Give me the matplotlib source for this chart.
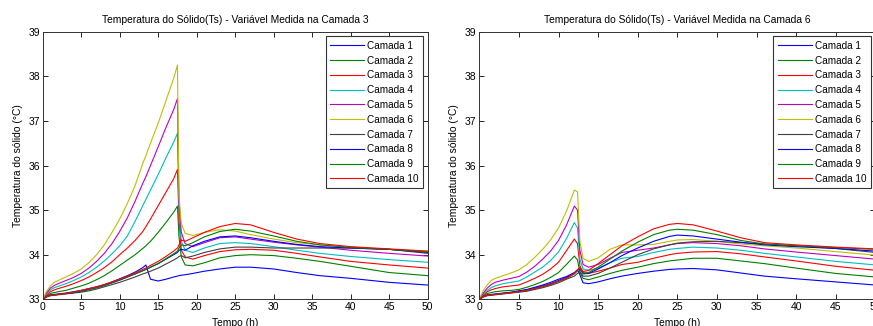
import matplotlib
matplotlib.use('Agg')
import matplotlib.pyplot as plt

plt.rcParams['font.family'] = ['Liberation Sans', 'DejaVu Sans']

# ---------------- dados ----------------
# Painel esquerdo: variável medida na camada 3
tempo_c3 = [0, 0.5, 1, 1.5, 2, 3, 4, 5, 6, 7, 8, 9, 10, 11, 12, 13, 13.4, 14, 15, 16,
            17, 17.5, 17.7, 18, 18.5, 19.5, 21, 23, 25, 27, 30, 33, 36, 40, 45, 50]

c3_cam1 = [33.0, 33.07, 33.1, 33.11, 33.12, 33.14, 33.17, 33.2, 33.24, 33.28, 33.33, 33.39,
           33.46, 33.53, 33.61, 33.71, 33.77, 33.45, 33.41, 33.45, 33.5, 33.52, 33.53, 33.54,
           33.55, 33.58, 33.63, 33.68, 33.72, 33.72, 33.68, 33.6, 33.53, 33.47, 33.38, 33.32]
c3_cam2 = [33.0, 33.08, 33.13, 33.15, 33.17, 33.2, 33.25, 33.3, 33.36, 33.44, 33.53, 33.64,
           33.76, 33.88, 34.0, 34.14, 34.2, 34.3, 34.5, 34.72, 34.95, 35.09, 34.4, 33.95,
           33.77, 33.75, 33.82, 33.93, 33.98, 34.0, 33.98, 33.92, 33.85, 33.74, 33.6, 33.53]
c3_cam3 = [33.0, 33.1, 33.17, 33.21, 33.24, 33.29, 33.35, 33.42, 33.5, 33.6, 33.71, 33.84,
           34.0, 34.15, 34.32, 34.52, 34.63, 34.8, 35.1, 35.4, 35.7, 35.91, 34.8, 34.1,
           33.95, 33.9, 33.98, 34.07, 34.11, 34.12, 34.1, 34.03, 33.95, 33.85, 33.77, 33.7]
c3_cam4 = [33.0, 33.12, 33.21, 33.26, 33.29, 33.35, 33.42, 33.5, 33.6, 33.72, 33.86, 34.02,
           34.2, 34.42, 34.75, 35.1, 35.24, 35.45, 35.8, 36.17, 36.52, 36.72, 35.0, 34.3,
           34.1, 34.05, 34.15, 34.25, 34.27, 34.25, 34.18, 34.1, 34.03, 33.96, 33.89, 33.83]
c3_cam5 = [33.0, 33.14, 33.25, 33.31, 33.35, 33.42, 33.49, 33.58, 33.7, 33.85, 34.03, 34.25,
           34.52, 34.83, 35.2, 35.6, 35.75, 36.0, 36.42, 36.85, 37.25, 37.5, 35.2, 34.5,
           34.25, 34.18, 34.27, 34.38, 34.4, 34.35, 34.28, 34.22, 34.17, 34.1, 34.03, 33.97]
c3_cam6 = [33.0, 33.18, 33.3, 33.38, 33.42, 33.5, 33.58, 33.68, 33.82, 34.0, 34.22, 34.5,
           34.8, 35.15, 35.55, 36.05, 36.22, 36.5, 36.95, 37.45, 37.95, 38.25, 35.3, 34.7,
           34.48, 34.43, 34.5, 34.56, 34.53, 34.45, 34.35, 34.27, 34.22, 34.17, 34.12, 34.08]
c3_cam7 = [33.0, 33.05, 33.08, 33.09, 33.1, 33.12, 33.14, 33.16, 33.19, 33.23, 33.28, 33.33,
           33.38, 33.44, 33.5, 33.57, 33.59, 33.63, 33.7, 33.79, 33.88, 33.93, 33.96, 33.98,
           33.93, 33.97, 34.05, 34.13, 34.17, 34.17, 34.15, 34.15, 34.15, 34.15, 34.12, 34.03]
c3_cam8 = [33.0, 33.06, 33.09, 33.1, 33.11, 33.13, 33.15, 33.18, 33.22, 33.26, 33.31, 33.37,
           33.43, 33.5, 33.57, 33.64, 33.67, 33.72, 33.8, 33.9, 34.0, 34.05, 34.1, 34.12,
           34.1, 34.2, 34.3, 34.4, 34.42, 34.38, 34.3, 34.23, 34.18, 34.15, 34.12, 34.05]
c3_cam9 = [33.0, 33.06, 33.09, 33.1, 33.11, 33.13, 33.15, 33.18, 33.22, 33.26, 33.31, 33.37,
           33.43, 33.5, 33.57, 33.64, 33.67, 33.72, 33.8, 33.91, 34.02, 34.08, 34.15, 34.22,
           34.2, 34.27, 34.4, 34.52, 34.57, 34.53, 34.42, 34.3, 34.22, 34.16, 34.12, 34.06]
c3_cam10 = [33.0, 33.06, 33.09, 33.1, 33.11, 33.13, 33.16, 33.2, 33.24, 33.28, 33.33, 33.39,
            33.45, 33.52, 33.59, 33.67, 33.7, 33.76, 33.85, 33.96, 34.08, 34.15, 34.22, 34.33,
            34.3, 34.38, 34.5, 34.63, 34.7, 34.67, 34.5, 34.35, 34.25, 34.18, 34.13, 34.08]

# Painel direito: variável medida na camada 6
tempo_c6 = [0, 0.5, 1, 1.5, 2, 3, 4, 5, 6, 7, 8, 9, 10, 11, 12, 12.4, 12.7, 13.1, 13.8,
            15, 16.5, 18, 20, 22, 24, 25, 27, 30, 33, 36, 40, 45, 50]

c6_cam1 = [33.0, 33.07, 33.1, 33.11, 33.12, 33.14, 33.16, 33.19, 33.22, 33.27, 33.32, 33.38,
           33.45, 33.51, 33.6, 33.66, 33.55, 33.37, 33.35, 33.39, 33.46, 33.52, 33.58, 33.63,
           33.67, 33.68, 33.69, 33.66, 33.59, 33.52, 33.46, 33.39, 33.32]
c6_cam2 = [33.0, 33.08, 33.13, 33.15, 33.17, 33.19, 33.2, 33.22, 33.27, 33.33, 33.4, 33.49,
           33.6, 33.78, 33.97, 33.88, 33.6, 33.47, 33.44, 33.5, 33.58, 33.65, 33.72, 33.8,
           33.86, 33.88, 33.92, 33.92, 33.86, 33.8, 33.7, 33.58, 33.5]
c6_cam3 = [33.0, 33.1, 33.17, 33.21, 33.24, 33.28, 33.3, 33.32, 33.39, 33.47, 33.56, 33.68,
           33.83, 34.09, 34.35, 34.25, 33.75, 33.6, 33.58, 33.63, 33.7, 33.78, 33.83, 33.92,
           34.0, 34.03, 34.06, 34.07, 34.02, 33.95, 33.86, 33.74, 33.65]
c6_cam4 = [33.0, 33.12, 33.2, 33.26, 33.3, 33.35, 33.38, 33.41, 33.5, 33.61, 33.72, 33.87,
           34.06, 34.36, 34.72, 34.6, 33.9, 33.68, 33.65, 33.7, 33.82, 33.92, 33.96, 34.05,
           34.12, 34.14, 34.17, 34.15, 34.1, 34.03, 33.95, 33.85, 33.77]
c6_cam5 = [33.0, 33.14, 33.25, 33.33, 33.38, 33.43, 33.47, 33.51, 33.61, 33.74, 33.9, 34.08,
           34.32, 34.66, 35.09, 35.0, 34.1, 33.78, 33.72, 33.78, 33.92, 34.05, 34.1, 34.15,
           34.22, 34.25, 34.27, 34.25, 34.2, 34.13, 34.06, 33.98, 33.9]
c6_cam6 = [33.0, 33.2, 33.32, 33.42, 33.47, 33.53, 33.59, 33.66, 33.78, 33.94, 34.12, 34.33,
           34.6, 34.97, 35.45, 35.41, 34.3, 33.92, 33.85, 33.93, 34.12, 34.22, 34.22, 34.23,
           34.3, 34.33, 34.34, 34.3, 34.24, 34.2, 34.15, 34.07, 33.99]
c6_cam7 = [33.0, 33.05, 33.08, 33.09, 33.1, 33.12, 33.14, 33.16, 33.18, 33.22, 33.26, 33.31,
           33.37, 33.45, 33.52, 33.58, 33.62, 33.52, 33.52, 33.58, 33.7, 33.83, 34.0, 34.13,
           34.22, 34.26, 34.29, 34.3, 34.27, 34.24, 34.2, 34.14, 34.05]
c6_cam8 = [33.0, 33.06, 33.09, 33.1, 33.11, 33.13, 33.15, 33.18, 33.21, 33.25, 33.3, 33.35,
           33.42, 33.49, 33.58, 33.66, 33.68, 33.57, 33.58, 33.68, 33.82, 33.98, 34.15, 34.3,
           34.41, 34.44, 34.42, 34.35, 34.28, 34.22, 34.18, 34.14, 34.08]
c6_cam9 = [33.0, 33.06, 33.09, 33.1, 33.11, 33.13, 33.15, 33.17, 33.2, 33.24, 33.28, 33.33,
           33.4, 33.47, 33.57, 33.64, 33.7, 33.58, 33.6, 33.72, 33.9, 34.08, 34.28, 34.45,
           34.55, 34.57, 34.55, 34.45, 34.32, 34.24, 34.2, 34.16, 34.12]
c6_cam10 = [33.0, 33.06, 33.09, 33.1, 33.11, 33.13, 33.15, 33.17, 33.2, 33.24, 33.29, 33.34,
            33.41, 33.47, 33.58, 33.66, 33.72, 33.62, 33.65, 33.8, 34.0, 34.2, 34.4, 34.58,
            34.68, 34.7, 34.67, 34.53, 34.38, 34.27, 34.22, 34.17, 34.13]

rotulos = ['Camada %d' % i for i in range(1, 11)]
titulos = ['Temperatura do Sólido(Ts) - Variável Medida na Camada 3',
           'Temperatura do Sólido(Ts) - Variável Medida na Camada 6']

# ordem de cores padrão do MATLAB (antiga)
cores = [(0, 0, 1), (0, 0.5, 0), (1, 0, 0), (0, 0.75, 0.75), (0.75, 0, 0.75),
         (0.75, 0.75, 0), (0.25, 0.25, 0.25), (0, 0, 1), (0, 0.5, 0), (1, 0, 0)]

paineis = [
    (tempo_c3, [c3_cam1, c3_cam2, c3_cam3, c3_cam4, c3_cam5,
                c3_cam6, c3_cam7, c3_cam8, c3_cam9, c3_cam10]),
    (tempo_c6, [c6_cam1, c6_cam2, c6_cam3, c6_cam4, c6_cam5,
                c6_cam6, c6_cam7, c6_cam8, c6_cam9, c6_cam10]),
]

W, H = 873, 326
fig = plt.figure(figsize=(W / 100, H / 100), dpi=100, facecolor='white')

# posições em pixels: (esquerda, direita, topo, base)
caixas = [(42.7, 427.7, 31.7, 299.3), (479.3, 875.3, 31.7, 299.3)]

for k, (tempo, series) in enumerate(paineis):
    x0, x1, y0, y1 = caixas[k]
    ax = fig.add_axes([x0 / W, 1 - y1 / H, (x1 - x0) / W, (y1 - y0) / H])
    for serie, cor, rot in zip(series, cores, rotulos):
        ax.plot(tempo, serie, color=cor, linewidth=0.8, label=rot)

    ax.set_xlim(0, 50)
    ax.set_ylim(33, 39)
    ax.set_xticks(range(0, 51, 5))
    ax.set_yticks(range(33, 40))
    ax.tick_params(direction='in', top=True, right=True, length=3.5, width=0.6,
                   labelsize=7.5, pad=2)
    for sp in ax.spines.values():
        sp.set_linewidth(0.7)
        sp.set_color('#333333')

    ax.set_title(titulos[k], fontsize=7.4, pad=6)
    ax.set_xlabel('Tempo (h)', fontsize=7.4, labelpad=4.5)
    ax.set_ylabel('Temperatura do sólido (°C)', fontsize=7.4, labelpad=4)

    leg = ax.legend(loc='upper right', fontsize=7.2, fancybox=False, framealpha=1,
                    edgecolor='#333333', handlelength=3.4, handletextpad=0.3,
                    labelspacing=0.48, borderpad=0.45, borderaxespad=0.45)
    leg.get_frame().set_linewidth(0.8)

fig.savefig('out.png', dpi=100, facecolor='white')
